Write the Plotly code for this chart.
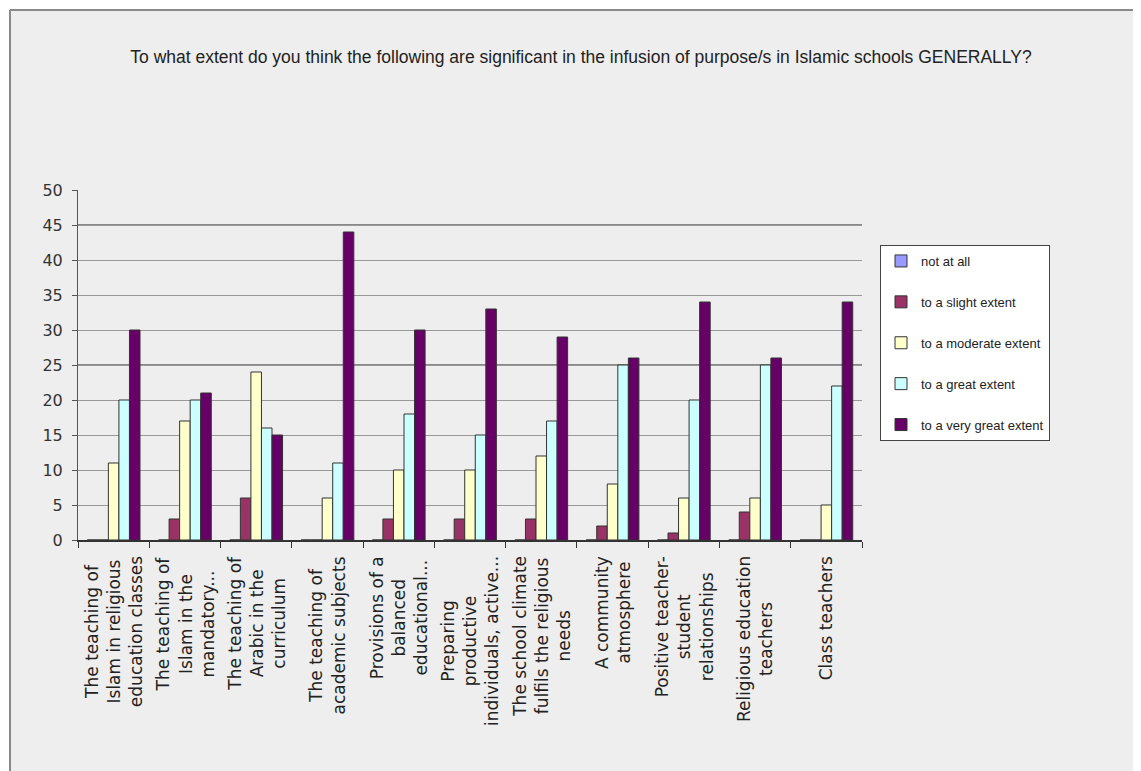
import plotly.graph_objects as go

# ---------------- data ----------------
categories = [
    "The teaching of<br>Islam in religious<br>education classes",
    "The teaching of<br>Islam in the<br>mandatory...",
    "The teaching of<br>Arabic in the<br>curriculum",
    "The teaching of<br>academic subjects",
    "Provisions of a<br>balanced<br>educational...",
    "Preparing<br>productive<br>individuals, active...",
    "The school climate<br>fulfils the religious<br>needs",
    "A community<br>atmosphere",
    "Positive teacher-<br>student<br>relationships",
    "Religious education<br>teachers",
    "Class teachers",
]
series_names = [
    "not at all",
    "to a slight extent",
    "to a moderate extent",
    "to a great extent",
    "to a very great extent",
]
not_at_all = [0, 0, 0, 0, 0, 0, 0, 0, 0, 0, 0]
slight = [0, 3, 6, 0, 3, 3, 3, 2, 1, 4, 0]
moderate = [11, 17, 24, 6, 10, 10, 12, 8, 6, 6, 5]
great = [20, 20, 16, 11, 18, 15, 17, 25, 20, 25, 22]
very_great = [30, 21, 15, 44, 30, 33, 29, 26, 34, 26, 34]
series_values = [not_at_all, slight, moderate, great, very_great]
series_colors = ["#9999FF", "#993366", "#FFFFCC", "#CCFFFF", "#660066"]
y_ticks = [0, 5, 10, 15, 20, 25, 30, 35, 40, 45, 50]
dark_grid = [25, 45]

title_text = ("To what extent do you think the following are significant in the "
              "infusion of purpose/s in Islamic schools GENERALLY?")

# ---------------- layout geometry (window pixels) ----------------
WIN_W, WIN_H = 1141, 771
OFF = 8                      # default page body margin
FW, FH = WIN_W - OFF, WIN_H - OFF
PLOT_L, PLOT_R, PLOT_T, PLOT_B = 78, 862, 190, 540
ML, MT = PLOT_L - OFF, PLOT_T - OFF
MR, MB = (OFF + FW) - PLOT_R, (OFF + FH) - PLOT_B
PW, PH = PLOT_R - PLOT_L, PLOT_B - PLOT_T


def px_x(px):
    return (px - PLOT_L) / PW


def px_y(py):
    return (PLOT_B - py) / PH


fig = go.Figure()
for name, vals, col in zip(series_names, series_values, series_colors):
    fig.add_trace(go.Bar(
        x=categories, y=vals, name=name, legendgroup=name,
        marker=dict(color=col, line=dict(color="#333333", width=1)),
    ))

# category labels (centered multi-line, rotated)
for c in categories:
    fig.add_annotation(
        x=c, xref="x", y=px_y(PLOT_B + 14), yref="paper",
        text=c, textangle=-90, showarrow=False, align="center",
        xanchor="center", yanchor="top",
        font=dict(family="DejaVu Sans", size=17, color="#222222"),
    )

shapes = [
    dict(type="rect", xref="paper", yref="paper", x0=px_x(0), x1=px_x(WIN_W + 10),
         y0=px_y(10), y1=px_y(0), fillcolor="white", line=dict(width=0), layer="below"),
    dict(type="rect", xref="paper", yref="paper", x0=px_x(0), x1=px_x(10),
         y0=px_y(WIN_H + 10), y1=px_y(0), fillcolor="white", line=dict(width=0), layer="below"),
    dict(type="line", xref="paper", yref="paper", x0=px_x(10), x1=px_x(WIN_W + 10),
         y0=px_y(10), y1=px_y(10), line=dict(color="#8a8a8a", width=2)),
    dict(type="line", xref="paper", yref="paper", x0=px_x(10), x1=px_x(10),
         y0=px_y(10), y1=px_y(WIN_H + 10), line=dict(color="#8a8a8a", width=2)),
]
for g in dark_grid:
    shapes.append(dict(type="line", xref="paper", yref="y", x0=0, x1=1, y0=g, y1=g,
                       line=dict(color="#222222", width=1.2), layer="below"))

fig.update_layout(
    width=FW, height=FH,
    margin=dict(l=ML, r=MR, t=MT, b=MB),
    paper_bgcolor="#EEEEEE", plot_bgcolor="#EEEEEE",
    barmode="group", bargap=0.26, bargroupgap=0,
    title=dict(text=title_text, x=(581 - OFF) / FW, xanchor="center",
               y=1 - (57 - OFF) / FH, yanchor="middle",
               font=dict(family="Liberation Sans Narrow, Liberation Sans, Arial", size=17.5,
                         color="#222222")),
    shapes=shapes,
    showlegend=True,
    legend=dict(
        x=px_x(880), xanchor="left", y=px_y(245), yanchor="top",
        bgcolor="white", bordercolor="#444444", borderwidth=1,
        font=dict(family="Liberation Sans", size=13, color="#222222"),
        tracegroupgap=21, traceorder="grouped", itemwidth=30,
    ),
    xaxis=dict(
        type="category", showticklabels=False, tickson="boundaries",
        ticks="outside", ticklen=6, tickcolor="#333333",
        showline=True, linecolor="#333333", linewidth=1.5,
        showgrid=False, zeroline=False,
    ),
    yaxis=dict(
        range=[0, 50], tickvals=y_ticks, ticks="outside", ticklen=5,
        tickcolor="#555555", showline=True, linecolor="#555555", linewidth=1,
        showgrid=True, gridcolor="#999999", gridwidth=1, zeroline=False,
        tickfont=dict(family="DejaVu Sans", size=16, color="#333333"),
        ticklabelstandoff=6,
    ),
)

fig.write_html("out.html")
